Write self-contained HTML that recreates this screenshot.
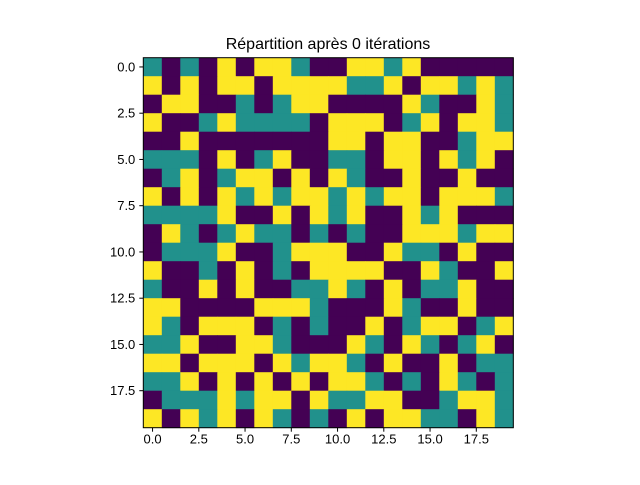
<!DOCTYPE html>
<html><head><meta charset="utf-8"><style>
body{margin:0;background:#fff}
svg text{font-family:"Liberation Sans","DejaVu Sans",sans-serif;fill:#000}
</style></head><body>
<svg id="chart" width="640" height="480" xmlns="http://www.w3.org/2000/svg">
<rect width="640" height="480" fill="#fff"/>
<text x="328" y="49" font-size="16" text-anchor="middle">Répartition après 0 itérations</text>
<g id="cells"></g>
<g id="axes"></g>
</svg>
<script>
const rowsStr = [
"TPTPYPYYTPPYYTYPPPPP",
"YPYPYYPYYYYTTYPYYTYT",
"PYYPPTPTYYPPPPYTPPYT",
"YPPTYTTTTPYYYPTYPYYT",
"PPYPPPPPPPYYPYYPPTYY",
"TTTPYPTYPPTTPYYPYTYP",
"PTYPTYYPYPYTPPYPPYPP",
"YPYPYTYTYYTYTYYPYYYT",
"TTTTYPPYPYTYPPYTYPPP",
"PYTPTYTTPTPTPPYYYTYY",
"PTTTYPPTYYYPPYTTPYPP",
"YPPTPYPTPYYYYPPYTPPY",
"TPPYPYPPTTYTPYPTTYPP",
"YYPPPPYYYTPPPYTPPYPP",
"YTPYYYPTPTPPYPTYYPTY",
"TTYPPYYTPPPYTPYTPTYP",
"YYPYYYPYTYYTPYPPYPTT",
"TTYPYPYPYPYYTPTPYTPT",
"PTTTYTYYPYTTYYPPTYYT",
"YPYTYPYTPTPYPYYTTPYT"];
const codeMap = {P:0,T:1,Y:2};
const values = rowsStr.map(r => r.split('').map(c => codeMap[c]));
const colors = ["#440154","#21918c","#fde725"];
const xTicks = [0,2.5,5,7.5,10,12.5,15,17.5];
const xTickLabels = ["0.0","2.5","5.0","7.5","10.0","12.5","15.0","17.5"];
const yTicks = [0,2.5,5,7.5,10,12.5,15,17.5];
const yTickLabels = ["0.0","2.5","5.0","7.5","10.0","12.5","15.0","17.5"];

const NS="http://www.w3.org/2000/svg";
const x0=143.3, y0=57.7, cw=(513.3-143.3)/20;
const xs = v => x0 + (v+0.5)*cw;
const ys = v => y0 + (v+0.5)*cw;
const cells=document.getElementById('cells');
values.forEach((row,r)=>row.forEach((v,c)=>{
  const e=document.createElementNS(NS,'rect');
  e.setAttribute('x',(xs(c)-cw/2).toFixed(2));
  e.setAttribute('y',(ys(r)-cw/2).toFixed(2));
  e.setAttribute('width',(cw+0.4).toFixed(2));
  e.setAttribute('height',(cw+0.4).toFixed(2));
  e.setAttribute('fill',colors[v]);
  
  
  cells.appendChild(e);
}));
const ax=document.getElementById('axes');
const fr=document.createElementNS(NS,'rect');
fr.setAttribute('x',x0);fr.setAttribute('y',y0);
fr.setAttribute('width',cw*20);fr.setAttribute('height',cw*20);
fr.setAttribute('fill','none');fr.setAttribute('stroke','#000');fr.setAttribute('stroke-width','1');


ax.appendChild(fr);
const yb=y0+cw*20;
xTicks.forEach((t,i)=>{
  const l=document.createElementNS(NS,'line');
  l.setAttribute('x1',xs(t));l.setAttribute('x2',xs(t));
  l.setAttribute('y1',yb);l.setAttribute('y2',yb+4);l.setAttribute('stroke','#000');
  
  
  ax.appendChild(l);
  const tx=document.createElementNS(NS,'text');
  tx.setAttribute('x',xs(t));tx.setAttribute('y',yb+16);
  tx.setAttribute('font-size','13');tx.setAttribute('text-anchor','middle');
  tx.textContent=xTickLabels[i];
  
  
  ax.appendChild(tx);
});
yTicks.forEach((t,i)=>{
  const l=document.createElementNS(NS,'line');
  l.setAttribute('x1',x0-4);l.setAttribute('x2',x0);
  l.setAttribute('y1',ys(t));l.setAttribute('y2',ys(t));l.setAttribute('stroke','#000');
  
  
  ax.appendChild(l);
  const tx=document.createElementNS(NS,'text');
  tx.setAttribute('x',x0-8);tx.setAttribute('y',ys(t)+4.5);
  tx.setAttribute('font-size','13');tx.setAttribute('text-anchor','end');
  tx.textContent=yTickLabels[i];
  
  
  ax.appendChild(tx);
});
</script>
</body></html>
